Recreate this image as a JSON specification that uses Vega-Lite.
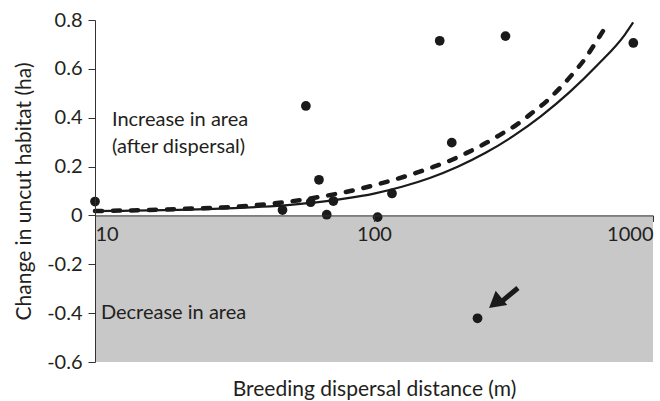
{
  "$schema": "https://vega.github.io/schema/vega-lite/v6.json",
  "width": 558,
  "height": 342,
  "autosize": "none",
  "padding": {"left": 95, "top": 20, "right": 7, "bottom": 39},
  "background": "white",
  "config": {
    "view": {"stroke": null},
    "font": "Lato",
    "axis": {"labelFont": "Lato", "titleFont": "Lato", "titleFontWeight": "normal", "labelColor": "#231f20", "titleColor": "#231f20", "domainColor": "#333333", "tickColor": "#333333", "grid": false}
  },
  "datasets": {
    "birds": [
      {"distance": 10, "change": 0.057},
      {"distance": 47, "change": 0.022},
      {"distance": 57, "change": 0.448},
      {"distance": 59.3, "change": 0.054},
      {"distance": 63.5, "change": 0.146},
      {"distance": 67.7, "change": 0.003},
      {"distance": 71.5, "change": 0.059},
      {"distance": 103, "change": -0.007},
      {"distance": 116, "change": 0.09},
      {"distance": 172, "change": 0.715},
      {"distance": 190, "change": 0.298},
      {"distance": 235, "change": -0.421},
      {"distance": 296, "change": 0.734},
      {"distance": 850, "change": 0.706}
    ],
    "fits": [
      {"model": "solid", "distance": 10, "change": 0.018},
      {"model": "solid", "distance": 12.6, "change": 0.019},
      {"model": "solid", "distance": 15.8, "change": 0.0205},
      {"model": "solid", "distance": 20, "change": 0.0225},
      {"model": "solid", "distance": 25.1, "change": 0.0255},
      {"model": "solid", "distance": 31.6, "change": 0.0295},
      {"model": "solid", "distance": 39.8, "change": 0.0355},
      {"model": "solid", "distance": 50.1, "change": 0.0435},
      {"model": "solid", "distance": 63.1, "change": 0.0545},
      {"model": "solid", "distance": 79.4, "change": 0.0695},
      {"model": "solid", "distance": 100, "change": 0.0895},
      {"model": "solid", "distance": 125.9, "change": 0.1175},
      {"model": "solid", "distance": 158.5, "change": 0.1535},
      {"model": "solid", "distance": 199.5, "change": 0.1995},
      {"model": "solid", "distance": 251.2, "change": 0.2565},
      {"model": "solid", "distance": 316.2, "change": 0.3255},
      {"model": "solid", "distance": 398.1, "change": 0.4075},
      {"model": "solid", "distance": 501.2, "change": 0.5035},
      {"model": "solid", "distance": 631, "change": 0.6145},
      {"model": "solid", "distance": 794.3, "change": 0.7415},
      {"model": "solid", "distance": 849, "change": 0.79},
      {"model": "dashed", "distance": 10, "change": 0.018},
      {"model": "dashed", "distance": 20, "change": 0.026},
      {"model": "dashed", "distance": 36, "change": 0.04},
      {"model": "dashed", "distance": 50, "change": 0.057},
      {"model": "dashed", "distance": 64, "change": 0.076},
      {"model": "dashed", "distance": 80, "change": 0.097},
      {"model": "dashed", "distance": 105, "change": 0.13},
      {"model": "dashed", "distance": 138, "change": 0.17},
      {"model": "dashed", "distance": 159, "change": 0.194},
      {"model": "dashed", "distance": 187, "change": 0.224},
      {"model": "dashed", "distance": 215, "change": 0.256},
      {"model": "dashed", "distance": 246, "change": 0.29},
      {"model": "dashed", "distance": 283, "change": 0.33},
      {"model": "dashed", "distance": 325, "change": 0.372},
      {"model": "dashed", "distance": 367, "change": 0.418},
      {"model": "dashed", "distance": 416, "change": 0.468},
      {"model": "dashed", "distance": 464, "change": 0.522},
      {"model": "dashed", "distance": 518, "change": 0.582},
      {"model": "dashed", "distance": 571, "change": 0.642},
      {"model": "dashed", "distance": 619, "change": 0.703},
      {"model": "dashed", "distance": 679, "change": 0.775}
    ],
    "one": [{"a": 1}]
  },
  "layer": [
    {
      "data": {"name": "one"},
      "mark": {"type": "rect", "color": "#c8c8c8"},
      "encoding": {
        "y": {"datum": 0, "type": "quantitative", "scale": {"domain": [-0.6, 0.8], "nice": false, "zero": false}},
        "y2": {"datum": -0.6}
      }
    },
    {
      "data": {"name": "fits"},
      "transform": [{"filter": "datum.model == 'solid'"}],
      "mark": {"type": "line", "color": "#1a1a1a", "strokeWidth": 2.2, "interpolate": "monotone"},
      "encoding": {
        "x": {"field": "distance", "type": "quantitative"},
        "y": {"field": "change", "type": "quantitative"}
      }
    },
    {
      "data": {"name": "fits"},
      "transform": [{"filter": "datum.model == 'dashed'"}],
      "mark": {"type": "line", "color": "#1a1a1a", "strokeWidth": 4.5, "strokeDash": [7, 11], "strokeCap": "round", "interpolate": "monotone"},
      "encoding": {
        "x": {"field": "distance", "type": "quantitative"},
        "y": {"field": "change", "type": "quantitative"}
      }
    },
    {
      "data": {"name": "birds"},
      "mark": {"type": "point", "filled": true, "color": "#1a1a1a", "opacity": 1, "size": 95},
      "encoding": {
        "x": {
          "field": "distance", "type": "quantitative",
          "scale": {"type": "log", "domain": [10, 1000], "nice": false},
          "axis": {
            "zindex": 2,
            "values": [10, 100, 1000],
            "format": "d",
            "labelFontSize": 20,
            "labelFlush": true,
            "tickSize": 6,
            "labelPadding": 3,
            "offset": {"expr": "scale('y', 0) - height"},
            "title": "Breeding dispersal distance (m)",
            "titleFontSize": 21,
            "titleBaseline": "middle",
            "titleY": {"expr": "height - scale('y', 0) + 27"}
          }
        },
        "y": {
          "field": "change", "type": "quantitative",
          "scale": {"domain": [-0.6, 0.8], "nice": false, "zero": false},
          "axis": {
            "zindex": 2,
            "values": [-0.6, -0.4, -0.2, 0, 0.2, 0.4, 0.6, 0.8],
            "labelExpr": "datum.value == 0 ? '0' : replace(format(datum.value, '.1f'), '\u2212', '-')",
            "labelFontSize": 20,
            "tickSize": 7,
            "labelPadding": 6,
            "title": "Change in uncut habitat (ha)",
            "titleFontSize": 21,
            "titlePadding": 12
          }
        }
      }
    },
    {
      "data": {"name": "one"},
      "mark": {"type": "text", "align": "left", "baseline": "middle", "fontSize": 20, "lineHeight": 27, "color": "#231f20"},
      "encoding": {
        "x": {"datum": 11.5, "type": "quantitative"},
        "y": {"datum": 0.39, "type": "quantitative"},
        "text": {"value": ["Increase in area", "(after dispersal)"]}
      }
    },
    {
      "data": {"name": "one"},
      "mark": {"type": "text", "align": "left", "baseline": "middle", "fontSize": 20, "color": "#231f20"},
      "encoding": {
        "x": {"datum": 10.5, "type": "quantitative"},
        "y": {"datum": -0.4, "type": "quantitative"},
        "text": {"value": "Decrease in area"}
      }
    },
    {
      "data": {"name": "one"},
      "mark": {"type": "rule", "color": "#1a1a1a", "strokeWidth": 5},
      "encoding": {
        "x": {"datum": 328, "type": "quantitative"},
        "y": {"datum": -0.297, "type": "quantitative"},
        "x2": {"datum": 283},
        "y2": {"datum": -0.358}
      }
    },
    {
      "data": {"name": "one"},
      "mark": {"type": "point", "shape": "triangle-up", "filled": true, "color": "#1a1a1a", "opacity": 1, "size": 340, "angle": 231},
      "encoding": {
        "x": {"datum": 272, "type": "quantitative"},
        "y": {"datum": -0.358, "type": "quantitative"}
      }
    }
  ]
}
